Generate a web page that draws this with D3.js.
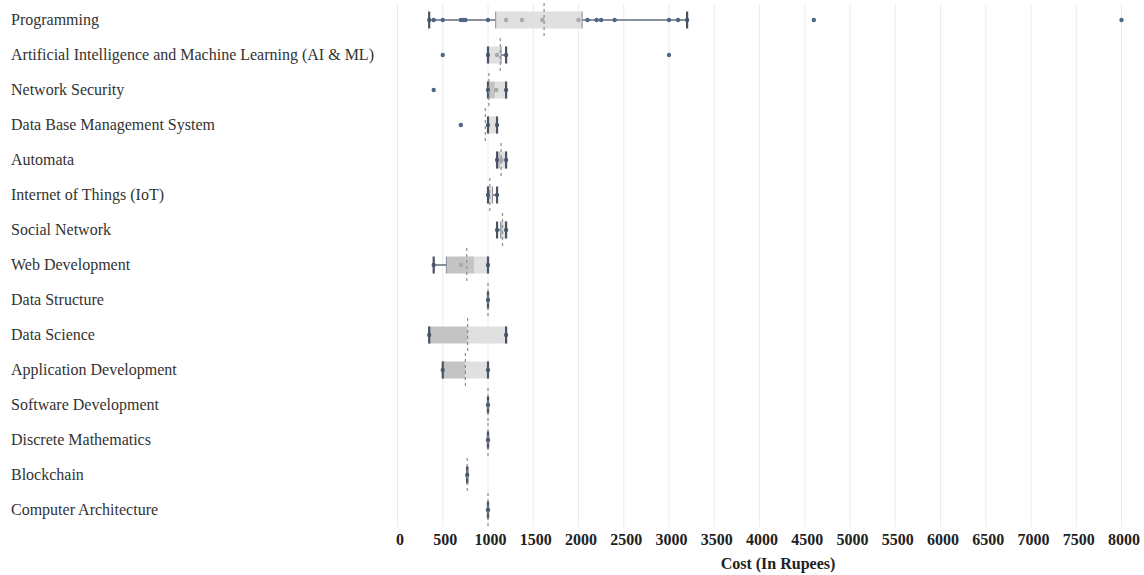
<!DOCTYPE html>
<html>
<head>
<meta charset="utf-8">
<script src="https://cdn.jsdelivr.net/npm/d3@7"></script>
<style>
  body { margin: 0; background: #fff; }
  svg { display: block; }
  .cat { font-family: "Liberation Serif", "Times New Roman", serif; font-size: 16px; fill: #333; }
  .x-axis text { font-family: "Liberation Serif", "Times New Roman", serif; font-size: 16px; font-weight: bold; fill: #222; }
  .axis-title { font-family: "Liberation Serif", "Times New Roman", serif; font-size: 16px; font-weight: bold; fill: #222; }
</style>
</head>
<body>
<svg id="chart" width="1144" height="575"></svg>
<script>
// data
const categories = [
  'Programming',
  'Artificial Intelligence and Machine Learning (AI & ML)',
  'Network Security',
  'Data Base Management System',
  'Automata',
  'Internet of Things (IoT)',
  'Social Network',
  'Web Development',
  'Data Structure',
  'Data Science',
  'Application Development',
  'Software Development',
  'Discrete Mathematics',
  'Blockchain',
  'Computer Architecture'
];
const whiskerLow  = [350, 1000, 1000, 1000, 1100, 1000, 1100, 400, 1000, 350, 500, 1000, 1000, 770, 1000];
const lowerQuart  = [1085, 1000, 1000, 1000, 1100, 1000, 1140, 540, 1000, 350, 500, 1000, 1000, 770, 1000];
const medians     = [1085, 1000, 1080, 1000, 1140, 1000, 1160, 845, 1000, 775, 750, 1000, 1000, 770, 1000];
const upperQuart  = [2040, 1145, 1200, 1100, 1200, 1050, 1200, 1000, 1000, 1200, 1000, 1000, 1000, 770, 1000];
const whiskerHigh = [3200, 1200, 1200, 1100, 1200, 1100, 1200, 1000, 1000, 1200, 1000, 1000, 1000, 770, 1000];
const means       = [1620, 1135, 1010, 970, 1145, 1020, 1160, 765, 1000, 775, 750, 1000, 1000, 770, 1000];
const points = [
  [350, 400, 500, 700, 725, 750, 1000, 1200, 1375, 1600, 2000, 2100, 2200, 2250, 2400, 3000, 3100, 3200, 4600, 8000],
  [500, 1000, 1100, 1200, 3000],
  [400, 1000, 1090, 1200],
  [700, 1000, 1100],
  [1100, 1150, 1200],
  [1000, 1100],
  [1100, 1200],
  [400, 700, 1000],
  [1000],
  [350, 1200],
  [500, 1000],
  [1000],
  [1000],
  [770],
  [1000]
];
const xTicks = d3.range(0, 8001, 500);

const svg = d3.select('#chart');
const x = d3.scaleLinear().domain([0, 8000]).range([397.5, 1121.5]);
const y = d3.scaleBand().domain(categories).range([2.5, 527.5]);
const boxH = 17;

const rows = categories.map((c, i) => ({
  name: c, lo: whiskerLow[i], q1: lowerQuart[i], med: medians[i],
  q3: upperQuart[i], hi: whiskerHigh[i], mean: means[i], pts: points[i]
}));

// grid
svg.append('g').selectAll('line')
  .data(xTicks).enter().append('line')
  .attr('x1', d => x(d)).attr('x2', d => x(d))
  .attr('y1', 4).attr('y2', 527)
  .attr('stroke', '#ececec').attr('stroke-width', 1);

// category labels
svg.append('g').selectAll('text')
  .data(categories).enter().append('text')
  .attr('class', 'cat')
  .attr('x', 11)
  .attr('y', d => y(d) + y.bandwidth() / 2 + 5)
  .text(d => d);

const g = svg.append('g').selectAll('g')
  .data(rows).enter().append('g')
  .attr('transform', d => 'translate(0,' + (y(d.name) + y.bandwidth() / 2) + ')');

// whisker line
g.append('line')
  .attr('x1', d => x(d.lo)).attr('x2', d => x(d.hi))
  .attr('y1', 0).attr('y2', 0)
  .attr('stroke', '#5f6b7a').attr('stroke-width', 1.5);

// box lower part (q1 -> median), upper part (median -> q3)
g.append('rect')
  .attr('x', d => x(d.q1)).attr('width', d => x(d.med) - x(d.q1))
  .attr('y', -boxH / 2).attr('height', boxH)
  .attr('fill', '#c4c4c4');
g.append('rect')
  .attr('x', d => x(d.med)).attr('width', d => x(d.q3) - x(d.med))
  .attr('y', -boxH / 2).attr('height', boxH)
  .attr('fill', '#e0e0e0');

// box edges
g.each(function(d) {
  const sel = d3.select(this);
  [d.q1, d.q3].forEach(v => {
    if (d.q3 > d.q1) {
      sel.append('line')
        .attr('x1', x(v)).attr('x2', x(v))
        .attr('y1', -boxH / 2).attr('y2', boxH / 2)
        .attr('stroke', '#8a9099').attr('stroke-width', 1);
    }
  });
});

// points
g.each(function(d) {
  d3.select(this).selectAll('circle')
    .data(d.pts).enter().append('circle')
    .attr('cx', v => x(v)).attr('cy', 0).attr('r', 2.2)
    .attr('fill', v => (v > d.q1 + 5 && v < d.q3 - 5) ? '#a9a9a9' : '#4f6784');
});

// whisker caps
g.each(function(d) {
  const sel = d3.select(this);
  [d.lo, d.hi].forEach(v => {
    sel.append('line')
      .attr('x1', x(v)).attr('x2', x(v))
      .attr('y1', -8.5).attr('y2', 8.5)
      .attr('stroke', '#4a5361').attr('stroke-width', 2.2);
  });
});

// mean (dashed)
g.append('line')
  .attr('x1', d => x(d.mean)).attr('x2', d => x(d.mean))
  .attr('y1', -17).attr('y2', 17)
  .attr('stroke', '#8c8c8c').attr('stroke-width', 1.2)
  .attr('stroke-dasharray', '3,3');

// x axis
const xAxis = d3.axisBottom(x).tickValues(xTicks).tickFormat(d3.format('d')).tickSize(0).tickPadding(0);
const ax = svg.append('g')
  .attr('class', 'x-axis')
  .attr('transform', 'translate(2,534)')
  .call(xAxis);
ax.select('.domain').remove();
ax.selectAll('text').attr('dy', '0.71em').attr('font-family', null).attr('font-size', null);

svg.append('text')
  .attr('class', 'axis-title')
  .attr('x', 778).attr('y', 569)
  .attr('text-anchor', 'middle')
  .text('Cost (In Rupees)');
</script>
</body>
</html>
